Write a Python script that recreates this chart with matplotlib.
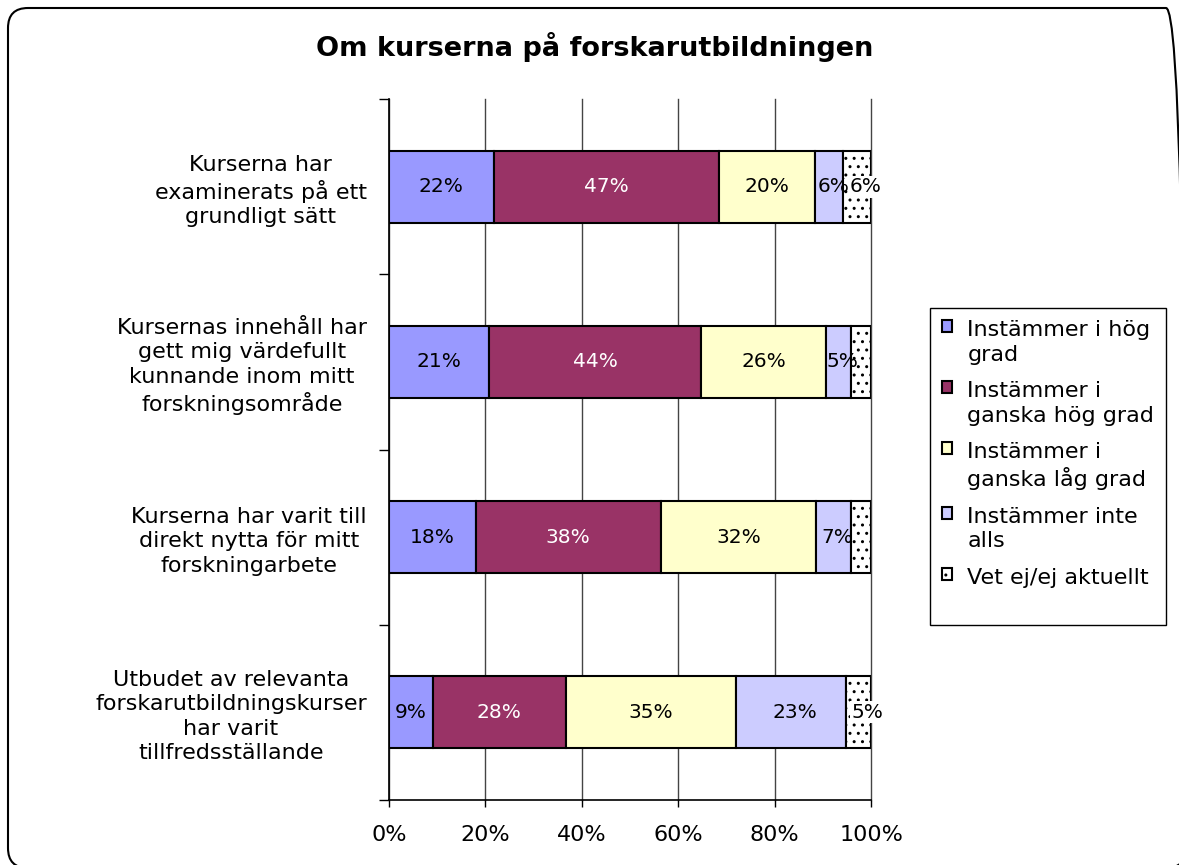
import matplotlib
matplotlib.use("Agg")
import matplotlib.pyplot as plt
import numpy as np
from matplotlib.patches import FancyBboxPatch
from matplotlib.offsetbox import HPacker

plt.rcParams['font.family'] = ['DejaVu Sans']
plt.rcParams['hatch.linewidth'] = 1.0

# ----------------------------------------------------------------------------
# Data (andelar i procent, kategorierna uppifrån och ned)
titel = "Om kurserna på forskarutbildningen"

kategorier = [
    "Kurserna har\nexaminerats på ett\ngrundligt sätt",
    "Kursernas innehåll har\ngett mig värdefullt\nkunnande inom mitt\nforskningsområde",
    "Kurserna har varit till\ndirekt nytta för mitt\nforskningarbete",
    "Utbudet av relevanta\nforskarutbildningskurser\nhar varit\ntillfredsställande",
]

serier = [
    "Instämmer i hög\ngrad",
    "Instämmer i\nganska hög grad",
    "Instämmer i\nganska låg grad",
    "Instämmer inte\nalls",
    "Vet ej/ej aktuellt\n",
]

hog_grad = [21.7, 20.8, 18.0, 9.1]
ganska_hog = [46.7, 43.9, 38.4, 27.6]
ganska_lag = [20.0, 26.0, 32.2, 35.2]
inte_alls = [5.8, 5.1, 7.2, 23.0]
vet_ej = [5.8, 4.2, 4.2, 5.1]

# (serie, kategori) utan dataetikett i originalet
dolda = [(4, 1), (4, 2)]

xticks = [0, 20, 40, 60, 80, 100]
# ----------------------------------------------------------------------------

data = [hog_grad, ganska_hog, ganska_lag, inte_alls, vet_ej]
farger = ["#9999FF", "#993366", "#FFFFCC", "#CCCCFF", "white"]
textfarg = ["black", "white", "black", "black", "black"]
monster = [None, None, None, None, ".."]

W, H = 1179, 865
fig = plt.figure(figsize=(W / 100, H / 100), dpi=100)
ax = fig.add_axes([389 / W, 65 / H, 482 / W, 701 / H])

y = np.arange(len(kategorier))
vanster = np.zeros(len(kategorier))
for i, varden in enumerate(data):
    bars = ax.barh(y, varden, left=vanster, height=0.41, color=farger[i],
                   edgecolor="black", linewidth=1.5, hatch=monster[i],
                   label=serier[i], zorder=3)
    texter = ["{:.0f}%".format(v) for v in varden]
    for s, k in dolda:
        if s == i:
            texter[k] = ""
    etiketter = ax.bar_label(bars, labels=texter, label_type="center",
                             fontsize=14.5, color=textfarg[i], zorder=4)
    if i == 3:
        for t in etiketter:
            t.xyann = (3, 0)
    if i == 4:
        for t in etiketter:
            t.xyann = (6, 0)
            t.set_bbox(dict(facecolor="white", edgecolor="none", pad=1))
    vanster += np.array(varden)

ax.set_xlim(0, 100)
ax.set_ylim(3.5, -0.5)
ax.set_xticks(xticks)
ax.set_xticklabels(["{}%".format(v) for v in xticks], fontsize=16)
ax.set_yticks(y)
ax.set_yticklabels(kategorier, fontsize=16, linespacing=1.27)
for t in ax.get_yticklabels():
    t.set_multialignment("center")
ax.set_yticks(np.arange(-0.5, 4, 1), minor=True)
ax.tick_params(axis="y", which="major", length=0, pad=16)
ax.tick_params(axis="y", which="minor", length=7, width=1, direction="out")
ax.tick_params(axis="x", which="major", length=5, width=1, direction="out", pad=13)

ax.grid(axis="x", color="#444444", linewidth=1.0)
for gl in ax.get_xgridlines():
    gl.set_clip_on(False)
ax.set_axisbelow(True)
ax.spines["top"].set_visible(False)
ax.spines["right"].set_visible(False)
ax.spines["left"].set_linewidth(1.2)
ax.spines["bottom"].set_linewidth(1.2)

fig.text(595 / W, 1 - 47 / H, titel, ha="center", va="center",
         fontsize=19.5, fontweight="bold")

leg = ax.legend(loc="upper left", bbox_to_anchor=(930 / W, 1 - 308 / H),
                bbox_transform=fig.transFigure, borderaxespad=0, fontsize=16,
                frameon=True, fancybox=False, edgecolor="black", framealpha=1,
                handlelength=0.45, handleheight=0.45, handletextpad=0.68,
                borderpad=0.55, labelspacing=0.75)
leg.get_frame().set_linewidth(1.0)
for t in leg.get_texts():
    t.set_linespacing(1.27)
for hp in leg.findobj(HPacker):
    hp.align = "top"

# rundad ram runt hela diagrammet (går utanför bilden nere och till höger)
ram = FancyBboxPatch((8 / W, -3 / H), 1178 / W, 860 / H,
                     boxstyle="round,pad=0,rounding_size={}".format(20 / W),
                     mutation_aspect=W / H, transform=fig.transFigure,
                     fill=False, edgecolor="black", linewidth=1.5, clip_on=False)
fig.add_artist(ram)

plt.savefig("out.png", dpi=100)
